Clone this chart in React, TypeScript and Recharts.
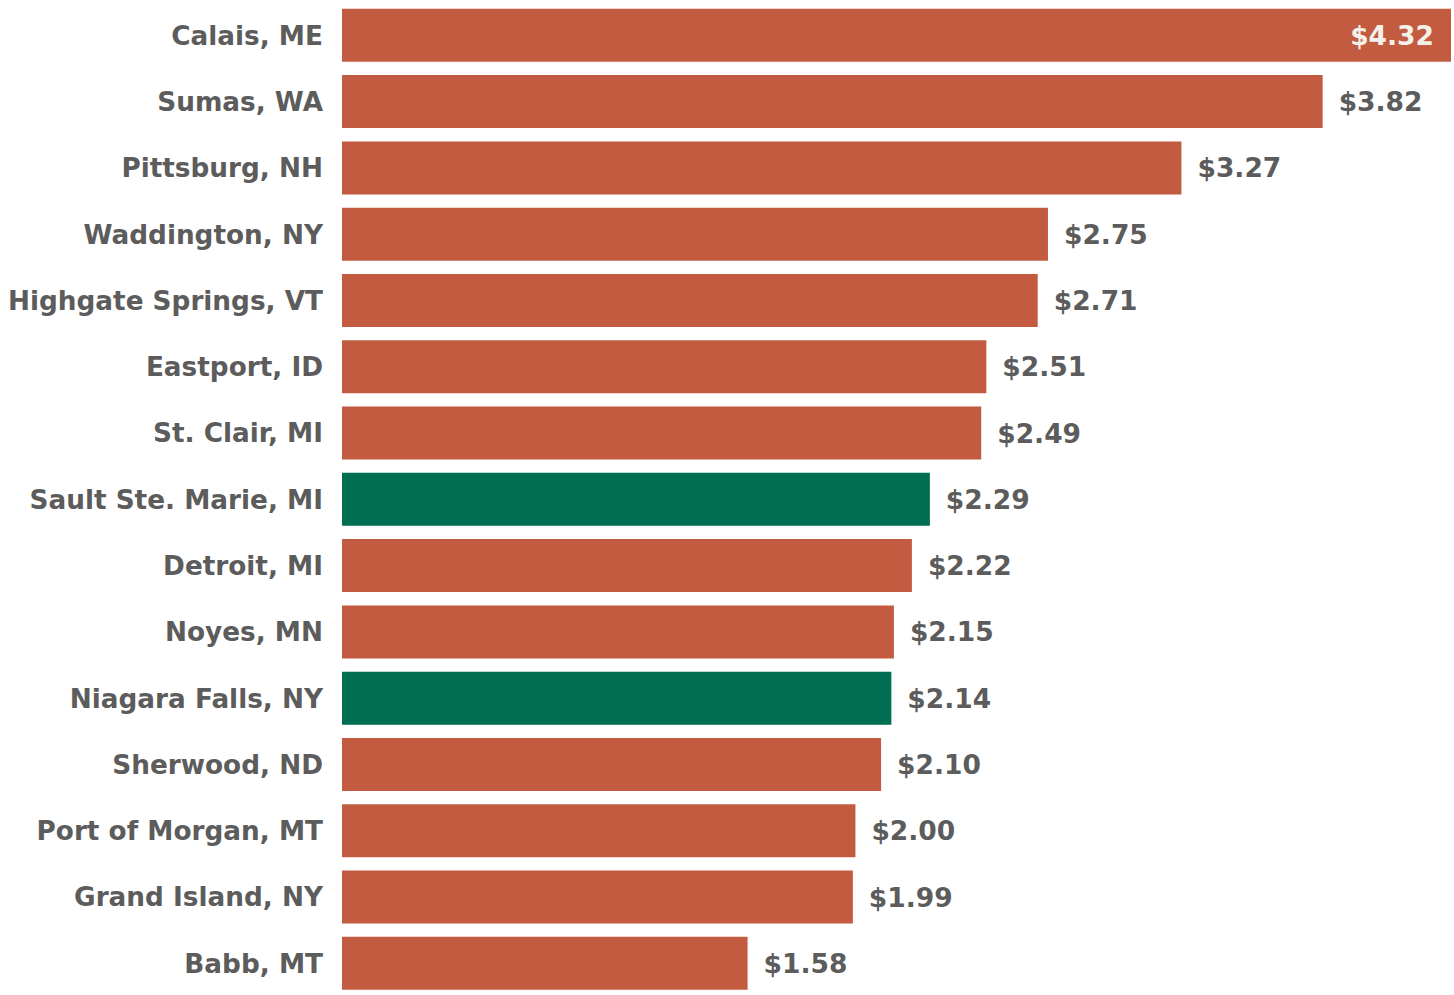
import React from "react";
import { BarChart, Bar, XAxis, YAxis, Cell, LabelList } from "recharts";

const crossings = [
  "Calais, ME",
  "Sumas, WA",
  "Pittsburg, NH",
  "Waddington, NY",
  "Highgate Springs, VT",
  "Eastport, ID",
  "St. Clair, MI",
  "Sault Ste. Marie, MI",
  "Detroit, MI",
  "Noyes, MN",
  "Niagara Falls, NY",
  "Sherwood, ND",
  "Port of Morgan, MT",
  "Grand Island, NY",
  "Babb, MT",
];

const costs = [4.32, 3.82, 3.27, 2.75, 2.71, 2.51, 2.49, 2.29, 2.22, 2.15, 2.14, 2.1, 2.0, 1.99, 1.58];

const highlighted = ["Sault Ste. Marie, MI", "Niagara Falls, NY"];

const ORANGE = "#C25B3F";
const GREEN = "#006E51";
const GREY = "#5C5C5C";
const FONT = "'DejaVu Sans', Verdana, sans-serif";

const data = crossings.map((name, i) => ({ name, value: costs[i] }));

const ValueLabel = (props: any) => {
  const { x, y, width, height, value, index } = props;
  const inside = index === 0;
  const tx = inside ? x + width - 17 : x + width + 16;
  return (
    <text
      x={tx}
      y={y + height / 2}
      textAnchor={inside ? "end" : "start"}
      dominantBaseline="central"
      fill={inside ? "#F4F1EA" : GREY}
      fontFamily={FONT}
      fontWeight="bold"
      fontSize={26.5}
    >
      {"$" + Number(value).toFixed(2)}
    </text>
  );
};

export default function App() {
  return (
    <div style={{ position: "fixed", left: 0, top: 0, width: 1454, height: 995, overflow: "hidden", background: "#fff" }}>
      <BarChart
        width={1454}
        height={998}
        data={data}
        layout="vertical"
        margin={{ top: 2.2, right: 3, bottom: 1.5, left: 0 }}
        barCategoryGap="10%"
      >
        <XAxis type="number" domain={[0, 4.32]} hide />
        <YAxis
          type="category"
          dataKey="name"
          width={342}
          axisLine={false}
          tickLine={false}
          tickSize={0}
          tickMargin={19}
          interval={0}
          tick={{ fill: GREY, fontFamily: FONT, fontWeight: "bold", fontSize: 26.3 }}
        />
        <Bar dataKey="value" isAnimationActive={false}>
          {data.map((d) => (
            <Cell key={d.name} fill={highlighted.includes(d.name) ? GREEN : ORANGE} />
          ))}
          <LabelList dataKey="value" content={ValueLabel} />
        </Bar>
      </BarChart>
    </div>
  );
}
